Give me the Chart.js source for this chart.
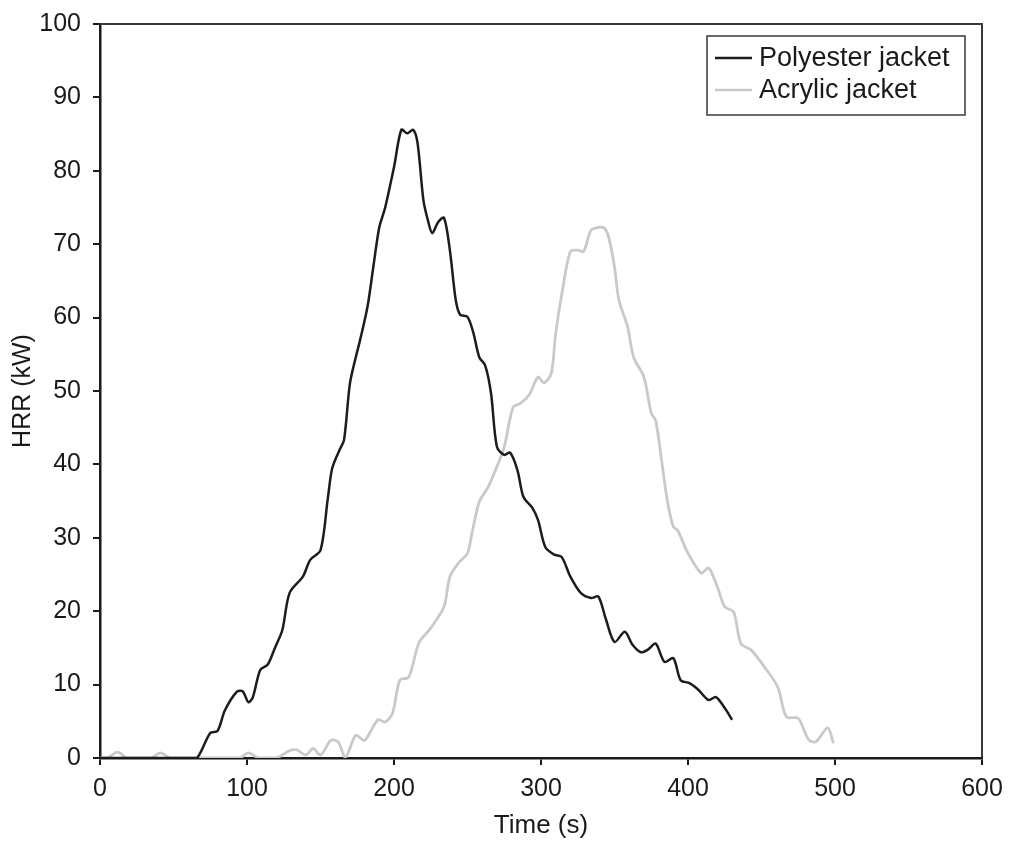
<!DOCTYPE html>
<html>
<head>
<meta charset="utf-8">
<script src="https://cdn.jsdelivr.net/npm/chart.js@4.4.1/dist/chart.umd.min.js"></script>
<style>
  html, body { margin: 0; padding: 0; background: #fff; }
  #wrap { width: 1009px; height: 841px; position: relative; }
</style>
</head>
<body>
<div id="wrap"><canvas id="hrrChart"></canvas></div>
<script>
// --- data --- //
const polyTime = [0, 20, 40, 60, 66, 75, 80, 85, 93, 97, 101, 104, 109, 114, 119, 124, 129, 138, 143, 150,
  155, 158, 163, 166, 170, 174, 177, 182, 186, 190, 194, 200, 205, 209, 213, 216, 220, 223, 226, 230,
  234, 238, 242, 245, 250, 254, 258, 262, 266, 270, 275, 279, 284, 288, 294, 298, 303, 309, 314, 320,
  327, 334, 339, 344, 350, 357, 362, 368, 373, 378, 384, 390, 395, 401, 407, 414, 419, 425, 430];
const polyHRR = [0, 0, 0, 0, 0, 3.4, 3.7, 6.5, 9, 9.1, 7.6, 8.3, 12, 12.7, 15, 17.4, 22.5, 24.7, 27, 28.3,
  35.4, 39.5, 42, 43.3, 51, 54.6, 57, 61.5, 67, 72.3, 75, 80.5, 85.6, 85.1, 85.6, 83.8, 76, 73.3, 71.5, 73,
  73.6, 69.2, 62.4, 60.4, 60.1, 57.9, 54.6, 53.5, 49.7, 42.4, 41.3, 41.6, 39.2, 35.6, 34.1, 32.4, 28.7, 27.7, 27.4, 24.7,
  22.5, 21.8, 22, 19, 15.8, 17.2, 15.5, 14.4, 14.8, 15.6, 13.1, 13.6, 10.6, 10.2, 9.3, 7.9, 8.3, 6.8, 5.2];

const acrylTime = [0, 5, 12, 18, 25, 35, 41, 48, 60, 80, 95, 101, 108, 120, 129, 134, 140, 145, 150, 157,
  162, 167, 174, 180, 189, 194, 199, 204, 210, 217, 225, 234, 238, 244, 250, 253, 258, 264, 269, 275,
  281, 286, 292, 298, 302, 307, 310, 315, 320, 325, 329, 334, 339, 343, 346, 350, 353, 359, 363, 370,
  375, 378, 382, 386, 390, 393, 400, 409, 414, 420, 425, 431, 436, 443, 452, 461, 467, 475, 482, 487, 495, 499];
const acrylHRR = [0, 0, 0.8, 0, 0, 0, 0.7, 0, 0, 0, 0, 0.7, 0, 0, 1, 1.1, 0.4, 1.3, 0.4, 2.4,
  2.2, 0.1, 3.1, 2.4, 5.2, 4.9, 6.1, 10.6, 11, 15.7, 17.7, 20.6, 24.7, 26.6, 27.9, 30.6, 34.9, 36.9, 39.2, 42.4,
  47.8, 48.3, 49.5, 51.9, 51.1, 52.4, 57.9, 64.2, 69, 69.2, 69, 71.9, 72.3, 72.2, 71, 66.9, 62.4, 58.7, 54.6, 51.9,
  47, 46, 40.6, 35, 31.5, 31, 27.9, 25.2, 25.9, 23.3, 20.6, 19.9, 15.6, 14.7, 12.4, 9.7, 5.6, 5.4, 2.5, 2.2, 4.1, 2];

const seriesLabels = ['Polyester jacket', 'Acrylic jacket'];

const colors = {
    poly: '#1c1c1c',
    acryl: '#c9c9c9',
    axis: '#1a1a1a',
    frame: '#3a3a3a',
    text: '#1a1a1a'
};

const fontFamily = '"Liberation Sans", Arial, Helvetica, sans-serif';
Chart.defaults.font.family = fontFamily;
Chart.defaults.font.size = 25;
Chart.defaults.color = colors.text;

const toPoints = (xs, ys) => xs.map((x, i) => ({ x: x, y: ys[i] }));

// top and right edges of the plot box
const plotFrame = {
    id: 'plotFrame',
    afterDraw(chart) {
        const { ctx, chartArea: { top, right, left, bottom } } = chart;
        ctx.save();
        ctx.strokeStyle = colors.frame;
        ctx.lineWidth = 2;
        ctx.beginPath();
        ctx.moveTo(left, top);
        ctx.lineTo(right, top);
        ctx.lineTo(right, bottom);
        ctx.stroke();
        ctx.restore();
    }
};

// boxed legend inside the plot, top right
const boxLegend = {
    id: 'boxLegend',
    afterDraw(chart) {
        const { ctx, chartArea: { right, top } } = chart;
        const x0 = right - 275, y0 = top + 12, w = 258, h = 79;
        ctx.save();
        ctx.strokeStyle = colors.frame;
        ctx.lineWidth = 1.5;
        ctx.strokeRect(x0, y0, w, h);
        ctx.font = '27px ' + fontFamily;
        ctx.textBaseline = 'middle';
        chart.data.datasets.forEach((ds, i) => {
            const y = y0 + 22 + i * 32;
            ctx.strokeStyle = ds.borderColor;
            ctx.lineWidth = 2.5;
            ctx.beginPath();
            ctx.moveTo(x0 + 8, y);
            ctx.lineTo(x0 + 45, y);
            ctx.stroke();
            ctx.fillStyle = colors.text;
            ctx.fillText(ds.label, x0 + 52, y + 1);
        });
        ctx.restore();
    }
};

new Chart(document.getElementById('hrrChart'), {
    type: 'line',
    data: {
        datasets: [
            {
                label: seriesLabels[0],
                data: toPoints(polyTime, polyHRR),
                borderColor: colors.poly,
                borderWidth: 2.5,
                pointRadius: 0,
                tension: 0.3,
                fill: false
            },
            {
                label: seriesLabels[1],
                data: toPoints(acrylTime, acrylHRR),
                borderColor: colors.acryl,
                borderWidth: 2.8,
                pointRadius: 0,
                tension: 0.3,
                fill: false
            }
        ]
    },
    plugins: [plotFrame, boxLegend],
    options: {
        responsive: true,
        maintainAspectRatio: false,
        animation: false,
        layout: { padding: { top: 24, right: 27, left: 0, bottom: 0 } },
        plugins: {
            legend: { display: false },
            tooltip: { enabled: false }
        },
        scales: {
            x: {
                type: 'linear',
                min: 0,
                max: 600,
                ticks: { stepSize: 100, padding: 9, color: colors.text },
                grid: { drawOnChartArea: false, drawTicks: true, tickLength: 7, color: colors.axis, lineWidth: 2 },
                border: { display: true, color: colors.axis, width: 2.5 },
                title: { display: true, text: 'Time (s)', color: colors.text, font: { size: 26 }, padding: { top: 0, bottom: 0 } },
                afterFit: (s) => { s.height = 83; s.paddingLeft = 0; s.paddingRight = 0; }
            },
            y: {
                min: 0,
                max: 100,
                ticks: { stepSize: 10, padding: 12, color: colors.text },
                grid: { drawOnChartArea: false, drawTicks: true, tickLength: 7, color: colors.axis, lineWidth: 2 },
                border: { display: true, color: colors.axis, width: 2.5 },
                title: { display: true, text: 'HRR (kW)', color: colors.text, font: { size: 25 }, padding: { top: 8, bottom: 0 } },
                afterFit: (s) => { s.width = 100; s.paddingTop = 0; s.paddingBottom = 0; }
            }
        }
    }
});
</script>
</body>
</html>
